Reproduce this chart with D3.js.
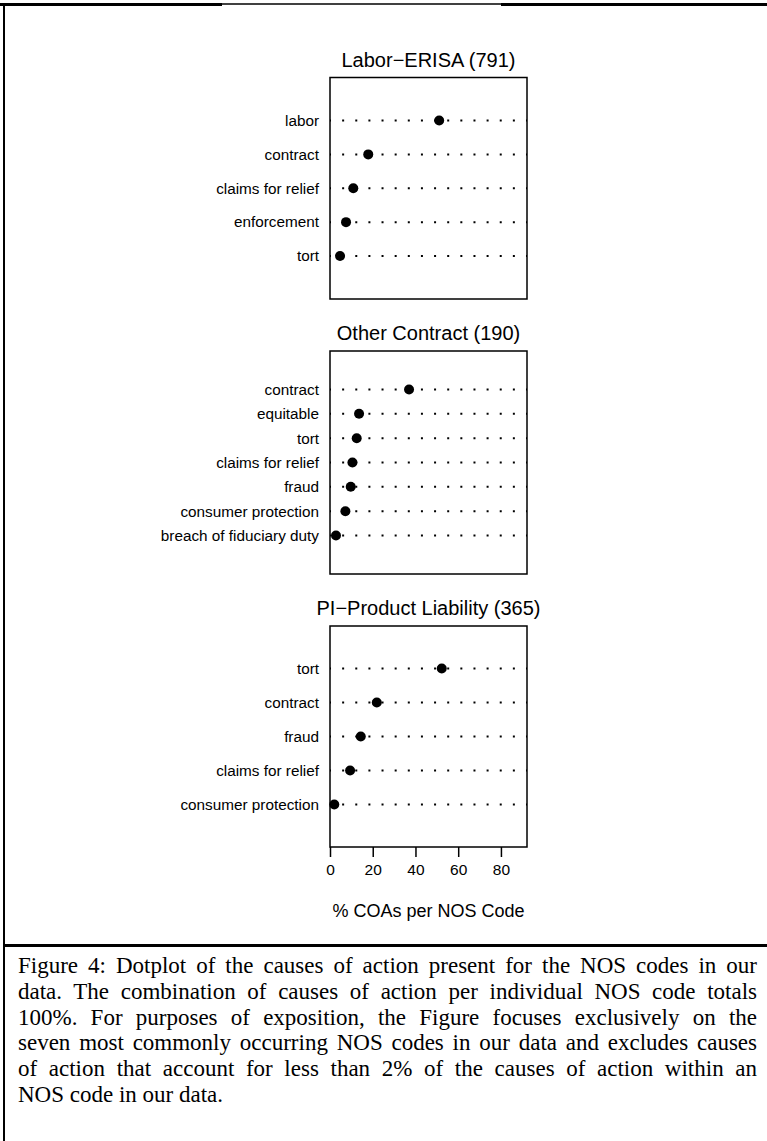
<!DOCTYPE html>
<html lang="en">
	<head>
		<meta charset="utf-8">
		<title>Dotplot of causes of action per NOS code</title>
		<script type="text/javascript" src="https://cdnjs.cloudflare.com/ajax/libs/d3/7.8.5/d3.min.js"></script>
		<style type="text/css">
			body { margin: 0; background: #ffffff; }
			svg { display: block; }
		</style>
	</head>
	<body>
		<script type="text/javascript">
			// page size
			var w = 767;
			var h = 1141;

			// data (percent of COAs per NOS code)
			var panelTitles = ["Labor\u2212ERISA (791)", "Other Contract (190)", "PI\u2212Product Liability (365)"];

			var laborCauses = ["labor", "contract", "claims for relief", "enforcement", "tort"];
			var laborPct = [51.1, 17.9, 10.9, 7.5, 4.7];

			var otherCauses = ["contract", "equitable", "tort", "claims for relief", "fraud",
							   "consumer protection", "breach of fiduciary duty"];
			var otherPct = [37.0, 13.6, 12.5, 10.5, 9.7, 7.2, 2.8];

			var pilCauses = ["tort", "contract", "fraud", "claims for relief", "consumer protection"];
			var pilPct = [52.3, 21.9, 14.4, 9.4, 2.0];

			var xTicks = [0, 20, 40, 60, 80];
			var xMax = 92.2;
			var xLabel = "% COAs per NOS Code";

			var captionLines = [
				"Figure 4: Dotplot of the causes of action present for the NOS codes in our",
				"data. The combination of causes of action per individual NOS code totals",
				"100%. For purposes of exposition, the Figure focuses exclusively on the",
				"seven most commonly occurring NOS codes in our data and excludes causes",
				"of action that account for less than 2% of the causes of action within an",
				"NOS code in our data."
			];

			var panels = [
				{ title: panelTitles[0], causes: laborCauses, pct: laborPct, top: 77.5, bottom: 299, pad: 43 },
				{ title: panelTitles[1], causes: otherCauses, pct: otherPct, top: 351, bottom: 574, pad: 38.5 },
				{ title: panelTitles[2], causes: pilCauses, pct: pilPct, top: 626, bottom: 847, pad: 42.5 }
			];

			var sans = "'Liberation Sans', Arial, Helvetica, sans-serif";
			var serif = "'Liberation Serif', 'Times New Roman', serif";

			var svg = d3.select("body")
						.append("svg")
						.attr("width", w)
						.attr("height", h);

			// frame round the figure
			svg.append("line").attr("x1", 0).attr("x2", 222).attr("y1", 4.5).attr("y2", 4.5)
			   .attr("stroke", "#000").attr("stroke-width", 3);
			svg.append("line").attr("x1", 222).attr("x2", 501).attr("y1", 4).attr("y2", 4)
			   .attr("stroke", "#000").attr("stroke-width", 1.5);
			svg.append("line").attr("x1", 501).attr("x2", w).attr("y1", 4.5).attr("y2", 4.5)
			   .attr("stroke", "#000").attr("stroke-width", 3);
			svg.append("line").attr("x1", 4).attr("x2", 4).attr("y1", 3).attr("y2", h)
			   .attr("stroke", "#000").attr("stroke-width", 2);
			svg.append("line").attr("x1", 3).attr("x2", w).attr("y1", 945.5).attr("y2", 945.5)
			   .attr("stroke", "#000").attr("stroke-width", 3);

			var x = d3.scaleLinear()
					  .domain([0, xMax])
					  .range([330, 527]);

			panels.forEach(function(p, pi) {
				var y = d3.scalePoint()
						  .domain(p.causes)
						  .range([p.top + p.pad, p.bottom - p.pad]);

				var g = svg.append("g");

				// title
				g.append("text")
				 .text(p.title)
				 .attr("x", (x.range()[0] + x.range()[1]) / 2)
				 .attr("y", p.top - 11)
				 .attr("text-anchor", "middle")
				 .attr("font-family", sans)
				 .attr("font-size", "20px")
				 .attr("fill", "#000");

				// dotted guide lines
				g.selectAll("line.guide")
				 .data(p.causes)
				 .enter()
				 .append("line")
				 .attr("class", "guide")
				 .attr("x1", x(0))
				 .attr("x2", x(xMax))
				 .attr("y1", function(d) { return y(d); })
				 .attr("y2", function(d) { return y(d); })
				 .attr("stroke", "#000")
				 .attr("stroke-width", 2)
				 .attr("stroke-dasharray", "2," + ((x(xMax) - x(0)) / 15 - 2))
				 .attr("stroke-dashoffset", 1);

				// row labels
				g.selectAll("text.lab")
				 .data(p.causes)
				 .enter()
				 .append("text")
				 .attr("class", "lab")
				 .text(function(d) { return d; })
				 .attr("x", 319)
				 .attr("y", function(d) { return y(d); })
				 .attr("dy", "0.35em")
				 .attr("text-anchor", "end")
				 .attr("font-family", sans)
				 .attr("font-size", "15.3px")
				 .attr("fill", "#000");

				// points
				g.selectAll("circle")
				 .data(p.pct)
				 .enter()
				 .append("circle")
				 .attr("cx", function(d) { return x(d); })
				 .attr("cy", function(d, i) { return y(p.causes[i]); })
				 .attr("r", 5)
				 .attr("fill", "#000");

				// panel box
				g.append("rect")
				 .attr("x", x.range()[0])
				 .attr("y", p.top)
				 .attr("width", x.range()[1] - x.range()[0])
				 .attr("height", p.bottom - p.top)
				 .attr("fill", "none")
				 .attr("stroke", "#000")
				 .attr("stroke-width", 1.5);

				// axis only under the last panel
				if (pi === panels.length - 1) {
					var ax = g.append("g")
							  .attr("transform", "translate(0," + p.bottom + ")")
							  .call(d3.axisBottom(x).tickValues(xTicks).tickSize(10).tickPadding(7));
					ax.select(".domain").remove();
					ax.selectAll(".tick line").attr("stroke", "#000").attr("stroke-width", 1.5);
					ax.selectAll(".tick text")
					  .attr("font-family", sans)
					  .attr("font-size", "15.5px")
					  .attr("fill", "#000");

					g.append("text")
					 .text(xLabel)
					 .attr("x", (x.range()[0] + x.range()[1]) / 2)
					 .attr("y", 917)
					 .attr("text-anchor", "middle")
					 .attr("font-family", sans)
					 .attr("font-size", "18px")
					 .attr("fill", "#000");
				}
			});

			// caption, justified between left and right margins
			var capLeft = 18, capRight = 757, capTop = 973, capStep = 25.8;
			captionLines.forEach(function(line, i) {
				var t = svg.append("text")
						   .text(line)
						   .attr("x", capLeft)
						   .attr("y", capTop + i * capStep)
						   .attr("font-family", serif)
						   .attr("font-size", "23px")
						   .attr("fill", "#000");
				if (i < captionLines.length - 1) {
					var natural = t.node().getComputedTextLength();
					var spaces = line.split(" ").length - 1;
					t.attr("word-spacing", ((capRight - capLeft - natural) / spaces) + "px");
				}
			});
		</script>
	</body>
</html>
